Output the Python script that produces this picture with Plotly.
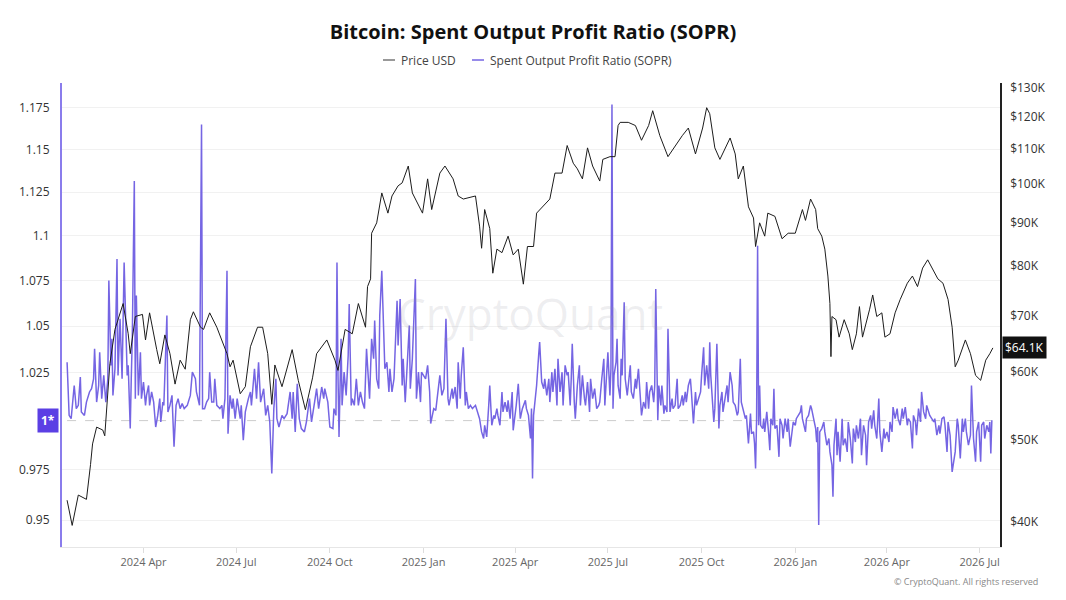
import plotly.graph_objects as go
import pandas as pd
import math

START = pd.Timestamp("2024-01-15")

# ---- Price USD (thousands), sampled by day offset from START ----
price_day = [2, 7, 13, 21, 25, 27, 31, 37, 39, 42, 44, 49, 57, 62, 64, 69, 76, 79, 83, 90,
             93, 98, 103, 108, 113, 118, 123, 126, 133, 136, 142, 149, 155, 159, 162, 165, 172, 177, 182,
             189, 194, 199, 203, 206, 213, 223, 229, 236, 243, 247, 257, 265, 268, 275, 282, 288, 295,
             297, 300, 301, 306, 311, 317, 321, 327, 331, 337, 341, 351, 356, 360,
             368, 373, 381, 386, 391, 403, 407, 409, 412, 417, 420, 424, 429, 435, 440, 445, 450, 454,
             460, 463, 469, 476, 481, 488, 493, 499, 503, 508, 513, 518, 525, 528, 535, 540, 543,
             545, 553, 560, 566, 573, 577, 584, 592, 599, 606, 612, 619, 626, 630, 633, 638, 643, 648,
             653, 658, 661, 666, 671, 676, 678, 682, 687, 690, 697, 704, 710, 717, 724,
             727, 732, 737, 739, 743, 746, 749, 751, 752, 753, 757, 760, 765, 770, 773, 777, 780, 783,
             790, 793, 797, 802, 805, 810, 815, 820, 827, 832, 837, 842, 847, 852, 857, 862, 867, 871,
             874, 877, 884, 889, 894, 899, 904, 908, 911]
price_k = [42.4, 39.6, 43.0, 42.5, 46.7, 49.4, 51.7, 51.3, 50.5, 57.7, 61.4, 67.4, 72.3, 66.6, 63.1, 69.8, 70.2, 65.5, 70.5, 63.8,
           61.4, 66.4, 63.1, 58.1, 62.0, 60.5, 69.2, 70.7, 67.8, 67.4, 70.5, 67.8, 64.8, 63.1, 60.9, 62.0, 56.6, 57.7, 64.3,
           67.8, 67.8, 63.1, 55.0, 61.2, 57.7, 63.8, 58.7, 54.2, 59.1, 63.1, 65.5, 62.0, 60.3, 67.4, 66.6, 72.3, 67.8,
           75.7, 77.3, 87.5, 90.0, 97.6, 92.4, 96.8, 99.5, 100.3, 105.0, 97.6, 92.4, 101.4, 93.3,
           103.0, 105.0, 101.4, 96.8, 96.0, 96.8, 89.2, 84.0, 93.3, 88.6, 78.5, 83.8, 83.0, 86.8, 82.5, 83.8, 76.2, 84.4,
           84.4, 92.4, 94.0, 96.0, 103.0, 103.0, 111.0, 105.8, 104.2, 101.4, 110.3, 105.0, 100.8, 106.9, 107.7, 107.7, 117.2,
           118.2, 118.2, 117.2, 112.6, 117.2, 122.0, 114.0, 107.7, 111.0, 114.0, 116.4, 108.5, 116.4, 123.0, 121.0, 110.3, 106.9, 110.3,
           113.3, 108.5, 101.4, 105.0, 94.0, 91.2, 84.4, 90.0, 86.8, 92.4, 91.6, 86.2, 87.5, 87.5, 93.3,
           90.6, 96.0, 93.3, 88.6, 86.8, 83.8, 77.9, 72.3, 62.6, 69.8, 69.2, 66.0, 69.2, 66.6, 63.8, 66.6, 71.7, 66.0,
           71.2, 74.0, 69.8, 70.5, 66.0, 66.6, 70.5, 73.1, 76.4, 77.9, 75.7, 79.6, 81.4, 79.4, 77.3, 76.4, 73.1, 67.8,
           60.9, 62.0, 65.5, 63.1, 59.5, 58.7, 62.0, 63.1, 64.1]

# ---- SOPR, sampled by day offset from START ----
sopr_day = [2, 4, 6, 9, 11, 13, 15, 16, 19, 21, 24, 26, 28, 29, 31, 33, 34, 36, 38, 40, 42, 43, 45, 46, 47, 49,
            51, 52, 54, 56, 58, 60, 61, 62, 64, 65, 66, 68, 69, 70, 72, 74, 75, 77, 79, 80, 82, 83, 85, 87, 89,
            91, 93, 94, 96, 97, 100, 101, 103, 105, 107, 109, 111, 113, 115, 117, 120, 123, 125, 128, 129, 132,
            134, 135, 137, 139, 141, 142, 144, 146, 147, 149, 152, 154, 155, 157, 159, 160, 162, 164, 165, 167,
            169, 172, 173, 175, 177, 180,
            182, 183, 186, 188, 190, 192, 195, 197, 199, 201, 203, 205, 207, 208, 210, 213, 215, 218, 221, 223,
            224, 226, 228, 230, 232, 235, 237, 240, 242, 245, 247, 249, 252, 254, 255, 258, 260, 263, 264, 266,
            267, 268, 269, 271, 272, 274, 276, 278, 279, 281, 282, 284, 286, 288, 290, 292, 294, 296, 298, 299,
            301, 303, 304, 306, 308, 309, 311, 313, 314, 316, 318, 319, 321, 323, 326, 327, 329, 331, 332, 334,
            336, 338, 339, 341, 344, 345, 347, 349, 350, 354, 356, 358, 359, 362,
            364, 367, 368, 370, 372, 374, 376, 377, 380, 381, 383, 385, 386, 388, 389, 391, 393, 394, 396, 398,
            400, 403, 405, 407, 409, 411, 412, 414, 416, 417, 419, 421, 422, 424, 425, 427, 429, 430, 432, 434,
            435, 437, 439, 440, 443, 445, 447, 449, 452, 453, 455, 457, 458, 459, 460, 463, 465, 466, 468, 470,
            471, 473, 475, 476, 478, 479, 481, 483, 484, 486, 488, 489, 491, 493, 494, 496, 497, 498, 500, 501,
            503, 505, 506, 508, 510, 511, 513, 515, 516, 518, 520, 522, 524, 525, 527, 529, 530, 532, 533, 535,
            536, 537, 538, 539, 541, 542, 543,
            545, 546, 547, 549, 550, 552, 553, 555, 556, 558, 560, 561, 563, 565, 566, 568, 570, 571, 573, 574,
            576, 578, 579, 580, 582, 583, 585, 586, 588, 589, 591, 592, 594, 596, 597, 599, 601, 602, 604, 606,
            607, 609, 610, 612, 614, 615, 617, 619, 620, 622, 624, 625, 627, 628, 630, 632, 633, 634, 636, 637,
            638, 640, 642, 643, 645, 646, 648, 650, 651, 653, 655, 656, 658, 660, 661, 663, 664, 666, 668, 669,
            671, 673, 674, 676, 677, 678, 679, 680, 681, 682, 683, 685, 686, 687, 689, 691, 692, 693, 695, 696,
            697, 699, 700, 701, 702, 704, 705, 707, 709, 710, 712, 714, 715, 717, 718, 722, 723, 724, 726,
            727, 728, 730, 732, 733, 735, 737, 738, 739, 740, 741, 743, 745, 746, 748, 750, 751, 753, 754, 755,
            757, 758, 759, 761, 763, 764, 766, 768, 769, 771, 773, 774, 776, 777, 779, 781, 782, 784, 786, 787,
            789, 791, 792, 794, 795, 797, 799, 800, 802, 804, 805, 807, 809, 810, 812, 813, 815, 817, 818, 820,
            822, 823, 825, 827, 828, 830, 832, 833, 835, 836, 838, 840, 841, 843, 845, 846, 848, 849, 851, 853,
            854, 856, 858, 859, 861, 863, 864, 866, 867, 869, 871, 872, 874, 876, 877, 879, 881, 882, 884, 885,
            887, 889, 890, 892, 894, 895, 897, 899, 900, 902, 903, 905, 907, 908, 909, 910]
sopr = [1.0306, 1.0027, 1.0010, 1.0183, 1.0062, 1.0079, 1.0227, 1.0045, 1.0027, 1.0096, 1.0149, 1.0166, 1.0218, 1.0377, 1.0096, 1.0183, 1.0359, 1.0114, 1.0236, 1.0096, 1.0218, 1.0749, 1.0289, 1.0431, 1.0131, 1.0271,
        1.0869, 1.0236, 1.0539, 1.0218, 1.0850, 1.0359, 1.0236, 1.0289, 0.9959, 1.0218, 1.0431, 1.1316, 1.0114, 1.0666, 1.0131, 1.0359, 1.0114, 1.0201, 1.0079, 1.0131, 1.0183, 1.0079, 1.0149, 1.0096, 0.9967,
        1.0027, 1.0114, 0.9993, 1.0096, 1.0079, 1.0557, 1.0045, 1.0079, 1.0131, 0.9866, 1.0079, 1.0114, 1.0062, 1.0088, 1.0062, 1.0079, 1.0131, 1.0253, 1.0218, 1.0149, 1.0079,
        1.1650, 1.0062, 1.0062, 1.0096, 1.0114, 1.0253, 1.0096, 1.0096, 1.0218, 1.0079, 1.0062, 1.0079, 1.0010, 1.0114, 1.0804, 0.9933, 1.0131, 1.0062, 1.0114, 1.0010,
        1.0114, 1.0010, 1.0079, 0.9899, 1.0045, 1.0114,
        1.0149, 1.0079, 1.0271, 1.0114, 1.0306, 1.0096, 1.0166, 1.0027, 1.0079, 0.9993, 0.9731, 1.0062, 1.0218, 1.0010, 0.9967, 1.0027, 1.0010, 1.0036, 1.0149, 1.0010,
        1.0149, 0.9942, 1.0192, 1.0010, 0.9959, 0.9942, 0.9993, 1.0114, 0.9993, 1.0096, 1.0166, 1.0062, 1.0175, 1.0114, 1.0166, 1.0096, 0.9967, 0.9959, 1.0062, 1.0027,
        1.0850, 1.0236, 0.9916, 1.0431, 1.0079, 1.0253, 1.0131, 1.0342, 1.0620, 1.0079, 1.0114, 1.0079, 1.0218, 1.0079, 1.0149, 1.0096, 1.0062, 1.0377, 1.0183, 1.0114,
        1.0431, 1.0324, 1.0530, 1.0218, 1.0166, 1.0557, 1.0804, 1.0359, 1.0271, 1.0306, 1.0149, 1.0271, 1.0149, 1.0218, 1.0638, 1.0395, 1.0647, 1.0183, 1.0324, 1.0096,
        1.0306, 1.0503, 1.0166, 1.0324, 1.0758, 1.0114, 1.0253, 1.0096, 1.0253, 1.0218, 1.0289, 1.0149, 0.9985, 1.0062,
        1.0053, 1.0218, 1.0236, 1.0131, 1.0166, 1.0539, 1.0114, 1.0079, 1.0166, 1.0114, 1.0175, 1.0062, 1.0306, 1.0114, 1.0236, 1.0386, 1.0079, 1.0149, 1.0062, 1.0079,
        1.0062, 1.0079, 1.0045, 1.0010, 0.9942, 0.9908, 0.9976, 0.9916, 1.0079, 1.0183, 0.9976, 1.0027, 1.0010, 1.0062, 1.0027, 0.9976, 1.0149, 1.0045, 1.0096, 1.0045,
        1.0105, 1.0010, 1.0149, 0.9950, 1.0079, 1.0192, 1.0010, 1.0062, 1.0105, 1.0062, 1.0027, 0.9908, 1.0062, 0.9706, 1.0027, 1.0183, 1.0342, 1.0413, 1.0201, 1.0166,
        1.0218, 1.0131, 1.0218, 1.0096, 1.0253, 1.0149, 1.0271, 1.0079, 1.0324, 1.0149, 1.0253, 1.0079, 1.0289, 1.0236, 1.0253, 1.0079, 1.0218, 1.0404, 1.0096, 1.0010,
        1.0183, 1.0289, 1.0079, 1.0236, 1.0114, 1.0079, 1.0201, 1.0045, 1.0218, 1.0114, 1.0166, 1.0062, 1.0079, 1.0096, 1.0218, 1.0324, 1.0079, 1.0253, 1.0359, 1.0131,
        1.0271, 1.1770, 1.0062, 1.0236, 1.0306, 1.0431, 1.0183,
        1.0114, 1.0324, 1.0236, 1.0629, 1.0218, 1.0131, 1.0183, 1.0289, 1.0149, 1.0114, 1.0218, 1.0166, 1.0271, 1.0114, 1.0027, 1.0096, 1.0062, 1.0201, 1.0062, 1.0149,
        1.0183, 1.0096, 1.0183, 1.0703, 1.0002, 1.0183, 1.0079, 1.0183, 1.0036, 1.0079, 1.0045, 1.0485, 1.0045, 1.0114, 1.0062, 1.0079, 1.0218, 1.0062, 1.0079, 1.0131,
        1.0079, 1.0149, 1.0096, 1.0183, 1.0218, 1.0149, 0.9985, 1.0149, 1.0079, 1.0114, 1.0149, 1.0236, 1.0386, 1.0183, 1.0289, 1.0166, 1.0413, 1.0236, 1.0027, 0.9993,
        1.0062, 1.0404, 0.9959, 1.0079, 1.0149, 1.0045, 1.0114, 1.0183, 1.0096, 1.0253, 1.0183, 1.0096, 1.0079, 1.0027, 1.0045, 1.0324, 1.0096, 1.0045, 1.0010, 1.0027,
        0.9883, 1.0036, 0.9933, 0.9942, 0.9883, 0.9756, 1.0010, 1.0944, 0.9976, 1.0183, 0.9976, 0.9959, 1.0010, 0.9942, 1.0045, 0.9925, 0.9849, 1.0010, 0.9976, 1.0166,
        0.9959, 0.9976, 0.9908, 0.9815, 1.0010, 0.9976, 0.9908, 1.0010, 0.9942, 1.0010, 0.9866, 0.9959, 0.9993, 0.9976, 1.0010, 1.0045, 1.0079, 1.0010, 0.9950,
        0.9942, 1.0010, 1.0027, 1.0079, 1.0062, 1.0010, 0.9959, 0.9890, 0.9967, 0.9476, 0.9942, 0.9959, 0.9993, 0.9942, 0.9874, 0.9908, 0.9840, 0.9773, 0.9615, 0.9874,
        1.0010, 0.9823, 0.9942, 0.9790, 1.0010, 0.9874, 0.9908, 0.9840, 0.9993, 0.9908, 0.9781, 0.9959, 0.9890, 0.9976, 0.9908, 1.0010, 0.9823, 0.9976, 0.9925, 0.9773,
        0.9993, 1.0027, 0.9959, 1.0053, 0.9976, 0.9908, 1.0114, 0.9942, 0.9840, 0.9959, 0.9908, 0.9942, 0.9890, 0.9993, 0.9942, 1.0070, 1.0010, 1.0062, 1.0010, 0.9976,
        1.0062, 1.0010, 1.0070, 0.9976, 1.0010, 0.9993, 0.9857, 1.0027, 0.9993, 0.9925, 1.0062, 0.9993, 1.0149, 1.0045, 1.0010, 1.0079, 1.0045, 1.0027, 1.0010, 0.9993,
        1.0010, 0.9925, 0.9976, 0.9933, 1.0010, 1.0019, 0.9976, 0.9840, 0.9993, 0.9925, 0.9739, 0.9773, 0.9840, 1.0010, 0.9976, 0.9807, 1.0010, 0.9942, 1.0010, 0.9942,
        0.9874, 0.9925, 1.0183, 0.9908, 0.9790, 0.9942, 0.9993, 0.9790, 0.9976, 0.9993, 0.9908, 0.9976, 0.9942, 0.9993, 0.9832, 1.0002]

# ---- Axis ticks ----
x_tick_dates = ["2024-04-01", "2024-07-01", "2024-10-01", "2025-01-01", "2025-04-01",
                "2025-07-01", "2025-10-01", "2026-01-01", "2026-04-01", "2026-07-01"]
x_tick_text = ["2024 Apr", "2024 Jul", "2024 Oct", "2025 Jan", "2025 Apr",
               "2025 Jul", "2025 Oct", "2026 Jan", "2026 Apr", "2026 Jul"]
sopr_ticks = [0.95, 0.975, 1.025, 1.05, 1.075, 1.1, 1.125, 1.15, 1.175]
sopr_tick_text = ["0.95", "0.975", "1.025", "1.05", "1.075", "1.1", "1.125", "1.15", "1.175"]
sopr_ref_level = 1.0
price_ticks = [40000, 50000, 60000, 70000, 80000, 90000, 100000, 110000, 120000, 130000]
price_tick_text = ["$40K", "$50K", "$60K", "$70K", "$80K", "$90K", "$100K", "$110K", "$120K", "$130K"]
last_price_label = "$64.1K"

price_dates = START + pd.to_timedelta(price_day, unit="D")
sopr_dates = START + pd.to_timedelta(sopr_day, unit="D")
price_usd = [p * 1000 for p in price_k]

SOPR_COLOR = "#7565e3"
PRICE_COLOR = "#1c1c1c"
FONT = "Open Sans, Noto Sans, sans-serif"

fig = go.Figure()
# reference line at SOPR = 1 (drawn first, beneath the series)
fig.add_trace(go.Scatter(x=[sopr_dates[0], sopr_dates[-1]], y=[sopr_ref_level, sopr_ref_level],
                         mode="lines", line=dict(color="#cccccc", width=1, dash="dash"),
                         yaxis="y", showlegend=False, hoverinfo="skip"))
fig.add_trace(go.Scatter(x=sopr_dates, y=sopr, mode="lines", name="Spent Output Profit Ratio (SOPR)",
                         line=dict(color=SOPR_COLOR, width=1.5), yaxis="y", showlegend=False,
                         hoverinfo="skip"))
fig.add_trace(go.Scatter(x=price_dates, y=price_usd, mode="lines", name="Price USD",
                         line=dict(color=PRICE_COLOR, width=1), yaxis="y2", showlegend=False,
                         hoverinfo="skip"))

fig.update_layout(
    width=1066, height=600,
    margin=dict(l=62, r=66, t=83, b=53),
    paper_bgcolor="white", plot_bgcolor="white",
    font=dict(family=FONT, color="#333"),
    title=dict(text="<b>Bitcoin: Spent Output Profit Ratio (SOPR)</b>", x=0.5, xanchor="center",
               y=1 - 32 / 600, yanchor="middle", font=dict(size=20, color="#111", family=FONT)),
    xaxis=dict(type="date", range=["2024-01-12", "2026-07-21"],
               tickvals=x_tick_dates, ticktext=x_tick_text,
               ticks="outside", ticklen=5, tickcolor="#dddddd",
               showgrid=False, zeroline=False, showline=True, linecolor="#e6e6e6", linewidth=1,
               tickfont=dict(size=11, color="#666")),
    yaxis=dict(type="log", range=[math.log10(0.9369), math.log10(1.1902)],
               tickvals=sopr_ticks, ticktext=sopr_tick_text,
               showgrid=True, gridcolor="#f1f1f1", zeroline=False,
               showline=True, linecolor="#8a7cec", linewidth=2,
               tickfont=dict(size=12, color="#333"), ticklabelstandoff=8),
    yaxis2=dict(type="log", overlaying="y", side="right",
                range=[4.57225, 5.11901],
                tickvals=price_ticks, ticktext=price_tick_text,
                showgrid=False, zeroline=False,
                showline=True, linecolor="#222", linewidth=1.5,
                tickfont=dict(size=12, color="#333"), ticklabelstandoff=6),
)

# custom legend: short line swatches + labels (pixel positions converted to paper coords)
def px_x(px):
    return (px - 62) / 938

def px_y(py):
    return (547 - py) / 464

legend_y = px_y(60)
shapes = [
    dict(type="line", xref="paper", yref="paper", x0=px_x(383), x1=px_x(395), y0=legend_y, y1=legend_y,
         line=dict(color="#555555", width=1.2)),
    dict(type="line", xref="paper", yref="paper", x0=px_x(472), x1=px_x(484), y0=legend_y, y1=legend_y,
         line=dict(color=SOPR_COLOR, width=1.5)),
]
fig.update_layout(shapes=shapes)

annotations = [
    dict(text="Price USD", xref="paper", yref="paper", x=px_x(399), y=legend_y,
         xanchor="left", yanchor="middle", showarrow=False,
         font=dict(size=12, color="#444", family=FONT)),
    dict(text="Spent Output Profit Ratio (SOPR)", xref="paper", yref="paper", x=px_x(488), y=legend_y,
         xanchor="left", yanchor="middle", showarrow=False,
         font=dict(size=12, color="#444", family=FONT)),
    dict(text="CryptoQuant", xref="paper", yref="paper", x=px_x(530), y=px_y(313),
         xanchor="center", yanchor="middle", showarrow=False,
         font=dict(size=44, color="rgba(150,150,160,0.16)", family=FONT)),
    dict(text="<b>1*</b>", xref="paper", yref="y", x=0, y=math.log10(sopr_ref_level),
         xanchor="right", yanchor="middle",
         xshift=-3, showarrow=False, bgcolor="#5b3fe4", borderpad=3,
         font=dict(size=12, color="white", family=FONT)),
    dict(text=last_price_label, xref="paper", yref="y2", x=1, y=math.log10(price_usd[-1]),
         xanchor="left", yanchor="middle", xshift=2, showarrow=False, bgcolor="#111",
         borderpad=2, font=dict(size=12, color="white", family=FONT)),
    dict(text="© CryptoQuant. All rights reserved", xref="paper", yref="paper",
         x=px_x(1040), y=px_y(581), xanchor="right", yanchor="middle",
         showarrow=False, font=dict(size=9, color="#888", family=FONT)),
]
fig.update_layout(annotations=annotations)

fig.write_html("out.html")
